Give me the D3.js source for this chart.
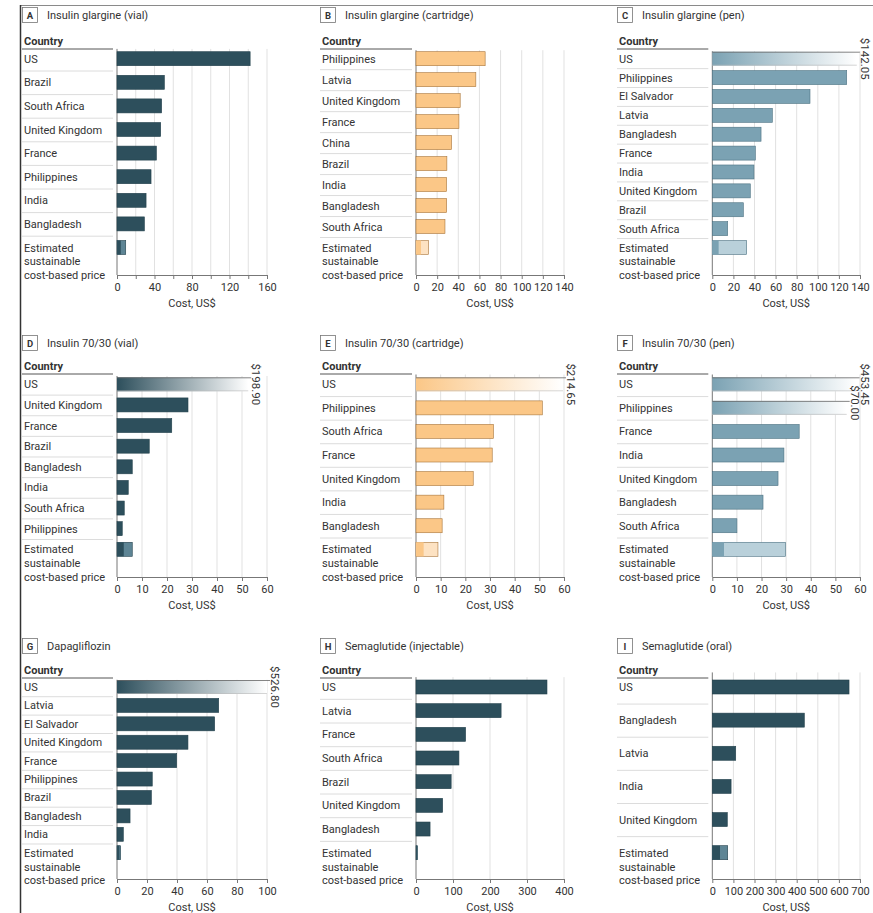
<!DOCTYPE html>
<html>
<head>
<meta charset="utf-8">
<script src="https://cdn.jsdelivr.net/npm/d3@7"></script>
<style>
body{margin:0;background:#fff}
svg text{font-family:Roboto,"Liberation Sans",sans-serif;fill:#333}
</style>
</head>
<body>
<svg id="chart" width="873" height="913"></svg>
<script>
'use strict'

// ---- data (cost in US$) ----
var titles = ["Insulin glargine (vial)","Insulin glargine (cartridge)","Insulin glargine (pen)",
              "Insulin 70/30 (vial)","Insulin 70/30 (cartridge)","Insulin 70/30 (pen)",
              "Dapagliflozin","Semaglutide (injectable)","Semaglutide (oral)"]
var letters = ["A","B","C","D","E","F","G","H","I"]

var countriesA = ["US","Brazil","South Africa","United Kingdom","France","Philippines","India","Bangladesh"]
var costA      = [142, 50.5, 47.6, 46.6, 42, 36.3, 31, 29.2]
var estimateA  = [4, 9.3]

var countriesB = ["Philippines","Latvia","United Kingdom","France","China","Brazil","India","Bangladesh","South Africa"]
var costB      = [65.4, 56.6, 41.8, 40.6, 33.6, 29.2, 28.9, 29, 27.4]
var estimateB  = [4.7, 11.9]

var countriesC = ["US","Philippines","El Salvador","Latvia","Bangladesh","France","India","United Kingdom","Brazil","South Africa"]
var costC      = [142.05, 127.4, 92.6, 56.9, 46.2, 40.8, 39.5, 36, 29.4, 14.6]
var estimateC  = [6, 32.6]

var countriesD = ["US","United Kingdom","France","Brazil","Bangladesh","India","South Africa","Philippines"]
var costD      = [198.90, 28.4, 21.9, 12.9, 6.1, 4.5, 2.9, 2.1]
var estimateD  = [2.7, 6.1]

var countriesE = ["US","Philippines","South Africa","France","United Kingdom","India","Bangladesh"]
var costE      = [214.65, 51.2, 31.4, 30.9, 23.2, 11.3, 10.6]
var estimateE  = [3.1, 8.9]

var countriesF = ["US","Philippines","France","India","United Kingdom","Bangladesh","South Africa"]
var costF      = [453.45, 70.00, 35.3, 29.1, 26.7, 20.6, 10]
var estimateF  = [4.75, 29.8]

var countriesG = ["US","Latvia","El Salvador","United Kingdom","France","Philippines","Brazil","Bangladesh","India"]
var costG      = [526.80, 67.8, 65.1, 47.3, 39.8, 23.5, 22.9, 8.7, 4.2]
var estimateG  = [1.6, 2.4]

var countriesH = ["US","Latvia","France","South Africa","Brazil","United Kingdom","Bangladesh"]
var costH      = [354, 230, 134, 116, 95, 72, 38]
var estimateH  = [2.5, 4.4]

var countriesI = ["US","Bangladesh","Latvia","India","United Kingdom"]
var costI      = [648, 436, 111, 89, 71]
var estimateI  = [36.5, 73]

var axisMax   = [160, 140, 140, 60, 60, 60, 100, 400, 700]
var tickStep  = [40, 20, 20, 10, 10, 10, 20, 100, 100]
var gridStep  = [20, 20, 20, 10, 10, 10, 20, 100, 100]

var countries = [countriesA,countriesB,countriesC,countriesD,countriesE,countriesF,countriesG,countriesH,countriesI]
var costs     = [costA,costB,costC,costD,costE,costF,costG,costH,costI]
var estimates = [estimateA,estimateB,estimateC,estimateD,estimateE,estimateF,estimateG,estimateH,estimateI]

// ---- styling / layout ----
var palette = {
  dark:   {fill:"#2d4f5c", light:"#5e8595", stroke:"#22404b"},
  orange: {fill:"#fbc787", light:"#fde2c2", stroke:"#a8753a"},
  steel:  {fill:"#7ba2b3", light:"#b9d0da", stroke:"#4d7282"}
}
var panelColor = ["dark","orange","steel","dark","orange","steel","dark","dark","dark"]
// where a truncated (off-scale) bar stops, in axis units
var capAt = [{}, {}, {US:137}, {US:52.5}, {US:59.6}, {US:58.6, Philippines:54.6}, {US:100}, {}, {}]

var colLabelX = [24, 322, 619]
var colZeroX  = [117, 416, 712.3]
var colRightX = [267, 564, 860]
var rowTitleY = [15, 343, 646]
var rowLineY  = [49, 374, 678]
var rowFirstY = [51.7, 377.3, 680]
var rowEstY   = [240.5, 542.3, 845.7]
var rowAxisY  = [275, 577, 879]
var barH = 14

var svg = d3.select("#chart")

// frame
svg.append("line").attr("x1",20).attr("x2",873).attr("y1",5.5).attr("y2",5.5)
  .attr("stroke","#8a8a8a").attr("stroke-width",1)
svg.append("line").attr("x1",20.5).attr("x2",20.5).attr("y1",5).attr("y2",913)
  .attr("stroke","#333").attr("stroke-width",1.5)

var defs = svg.append("defs")
Object.keys(palette).forEach(function(k){
  var grad = defs.append("linearGradient").attr("id","fade-" + k)
  grad.append("stop").attr("offset","0%").attr("stop-color",palette[k].fill)
  grad.append("stop").attr("offset","100%").attr("stop-color","#fff")
})

titles.forEach(function(title, p){
  var col = p % 3, row = Math.floor(p / 3)
  var g = svg.append("g")
  var pal = palette[panelColor[p]]
  var labelX = colLabelX[col], zeroX = colZeroX[col], rightX = colRightX[col]
  var axisY = rowAxisY[row]

  var cats = countries[p].concat(["Estimated"])
  var n = cats.length
  var pitch = (rowEstY[row] - rowFirstY[row]) / (n - 1)
  var top = rowFirstY[row] - (pitch - barH) / 2

  var x = d3.scaleLinear().domain([0, axisMax[p]]).range([zeroX, rightX])
  var y = d3.scaleBand().domain(cats).range([top, top + n * pitch]).padding(0)
  var barY = function(c){ return y(c) + (y.bandwidth() - barH) / 2 }

  // title
  g.append("rect").attr("x",labelX - 1.5).attr("y",rowTitleY[row] - 7.5)
    .attr("width",15).attr("height",15).attr("fill","#fff").attr("stroke","#777").attr("stroke-width",0.8)
  g.append("text").attr("x",labelX + 6).attr("y",rowTitleY[row] + 3.5)
    .attr("text-anchor","middle").style("font-size","9.5px").style("font-weight","bold").text(letters[p])
  g.append("text").attr("x",labelX + 23).attr("y",rowTitleY[row] + 4)
    .style("font-size","11px").text(title)

  // header
  g.append("text").attr("x",labelX).attr("y",rowLineY[row] - 4.5)
    .style("font-size","11px").style("font-weight","bold").text("Country")
  g.append("line").attr("x1",labelX - 2).attr("x2",zeroX - 4)
    .attr("y1",rowLineY[row]).attr("y2",rowLineY[row]).attr("stroke","#555").attr("stroke-width",1)

  // row separators
  g.selectAll(".sep").data(cats.slice(1)).enter().append("line")
    .attr("x1",labelX - 2).attr("x2",zeroX - 4)
    .attr("y1",d => y(d) + 0.5).attr("y2",d => y(d) + 0.5)
    .attr("stroke","#dcdcdc")

  // grid lines
  var grid = d3.range(gridStep[p], axisMax[p] + 0.001, gridStep[p])
  g.selectAll(".grid").data(grid).enter().append("line")
    .attr("x1",d => x(d)).attr("x2",d => x(d))
    .attr("y1",top + 2).attr("y2",axisY)
    .attr("stroke","#e1e1e1")

  // axis
  var ax = g.append("g").attr("transform","translate(0," + axisY + ")")
    .call(d3.axisBottom(x).tickValues(d3.range(0, axisMax[p] + 0.001, gridStep[p]))
      .tickSizeInner(4).tickSizeOuter(0)
      .tickFormat(d => (Math.round(d / tickStep[p] * 1000) % 1000 === 0) ? d : ""))
  ax.select(".domain").attr("stroke","#777")
  ax.selectAll(".tick line").attr("stroke","#777")
  ax.selectAll(".tick text").attr("y",8).style("font-size","11px").style("font-family","Roboto")
    .attr("fill","#444")
  g.append("line").attr("x1",zeroX).attr("x2",zeroX).attr("y1",top + 2).attr("y2",axisY)
    .attr("stroke","#777")
  g.append("text").attr("x",(zeroX + rightX) / 2).attr("y",axisY + 32)
    .attr("text-anchor","middle").style("font-size","11px").text("Cost, US$")

  // country labels
  g.selectAll(".lab").data(countries[p]).enter().append("text")
    .attr("x",labelX).attr("y",d => barY(d) + barH / 2 + 4)
    .style("font-size","11px").text(d => d)
  var est = g.append("text").attr("x",labelX).attr("y",barY("Estimated") + barH / 2 + 4)
    .style("font-size","11px")
  ;["Estimated","sustainable","cost-based price"].forEach(function(t, i){
    est.append("tspan").attr("x",labelX).attr("dy",i ? 13.8 : 0).text(t)
  })

  // bars
  var rows = countries[p].map((c, i) => ({c: c, v: costs[p][i]}))
  var caps = capAt[p]
  var normal = rows.filter(d => !(d.c in caps))
  var cut = rows.filter(d => d.c in caps)

  g.selectAll(".bar").data(normal).enter().append("rect")
    .attr("x",x(0)).attr("y",d => barY(d.c))
    .attr("width",d => x(d.v) - x(0)).attr("height",barH)
    .attr("fill",pal.fill).attr("stroke",pal.stroke).attr("stroke-width",0.6)

  cut.forEach(function(d, k){
    var x1 = x(caps[d.c]), yy = barY(d.c)
    g.append("rect").attr("x",x(0)).attr("y",yy).attr("width",x1 - x(0)).attr("height",barH)
      .attr("fill","url(#fade-" + panelColor[p] + ")")
    g.append("line").attr("x1",x(0)).attr("x2",x1 + 3).attr("y1",yy + 0.5).attr("y2",yy + 0.5)
      .attr("stroke","#666").attr("stroke-width",0.8)
    g.append("line").attr("x1",x(0)).attr("x2",x1).attr("y1",yy + barH - 0.5).attr("y2",yy + barH - 0.5)
      .attr("stroke","#bbb").attr("stroke-width",0.6)
    // second label in a panel is nudged up so both stay readable
    g.append("text")
      .attr("transform","translate(" + (x1 + 4) + "," + (yy + barH / 2 - k * 5) + ") rotate(90)")
      .attr("text-anchor","middle").style("font-size","11.5px").attr("fill","#444")
      .text("$" + d3.format(".2f")(d.v))
  })

  // estimated sustainable price range
  var e = estimates[p], ey = barY("Estimated")
  g.append("rect").attr("x",x(0)).attr("y",ey).attr("width",x(e[1]) - x(0)).attr("height",barH)
    .attr("fill",pal.light).attr("stroke",pal.stroke).attr("stroke-width",0.6)
  g.append("rect").attr("x",x(0)).attr("y",ey).attr("width",x(e[0]) - x(0)).attr("height",barH)
    .attr("fill",pal.fill)
})
</script>
</body>
</html>
